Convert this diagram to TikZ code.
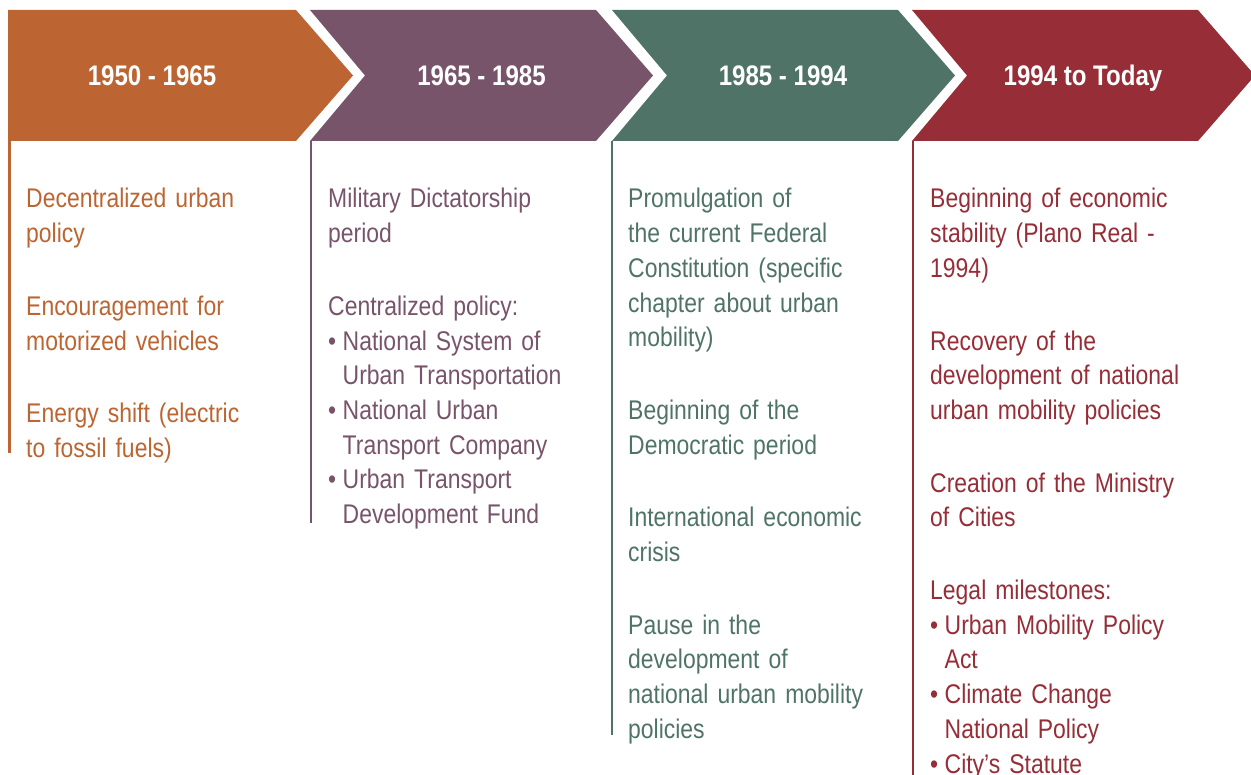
\documentclass[tikz,border=0pt]{standalone}
\usepackage{fontspec}
\setmainfont{Liberation Sans}[FakeStretch=0.85]
\usepackage{tikz}

\definecolor{rust}{HTML}{BC6532}
\definecolor{plum}{HTML}{78546B}
\definecolor{sage}{HTML}{4F7367}
\definecolor{wine}{HTML}{962D37}

\newcommand{\bul}{\makebox[14.5pt][l]{•}}
\newcommand{\ind}{\hspace*{14.5pt}}

\begin{document}
\begin{tikzpicture}[x=1pt,y=-1pt,
	period/.style={anchor=base,text=white,inner sep=0pt,font=\fontsize{28.3}{34.7}\selectfont\bfseries},
	items/.style={anchor=base west,inner sep=0pt,text width=300pt,align=left,font=\fontsize{27}{34.7}\selectfont},
	rule/.style={line width=2.5pt}]
	\useasboundingbox (0,0) rectangle (1251,775);
	% first arrow has a flat back, the others a notch
	\fill[rust] (8,10) -- (296,10) -- (353,75.5) -- (296,141) -- (8,141) -- cycle;
	\foreach \x/\c in {310/plum,612/sage,912/wine} {
		\fill[\c] (\x,10) -- (\x+286,10) -- (\x+343,75.5) -- (\x+286,141) -- (\x,141) -- (\x+55,75.5) -- cycle;
	}
	\node[period] (p1) at (152,86) {1950 - 1965};
	\node[period] (p2) at (481.5,86) {1965 - 1985};
	\node[period] (p3) at (783,86) {1985 - 1994};
	\node[period] (p4) at (1083,86) {1994 to Today};
	% timeline rules under each arrow
	\coordinate (e1) at (9.5,453);
	\coordinate (e2) at (311,523);
	\coordinate (e3) at (612,735);
	\coordinate (e4) at (913,775);
	\draw[rule,rust] (9.5,141) -- (e1);
	\draw[rule,plum] (311,141) -- (e2);
	\draw[rule,sage] (612,141) -- (e3);
	\draw[rule,wine] (913,141) -- (e4);
	% events
	\node[items,text=rust] (t1) at (26,208) {Decentralized urban\\policy\\[38pt]
		Encouragement for\\motorized vehicles\\[38pt]
		Energy shift (electric\\to fossil fuels)};
	\node[items,text=plum] (t2) at (328,208) {Military Dictatorship\\period\\[38pt]
		Centralized policy:\\
		\bul National System of\\\ind Urban Transportation\\
		\bul National Urban\\\ind Transport Company\\
		\bul Urban Transport\\\ind Development Fund};
	\node[items,text=sage] (t3) at (628,208) {Promulgation of\\the current Federal\\Constitution (specific\\chapter about urban\\mobility)\\[38pt]
		Beginning of the\\Democratic period\\[38pt]
		International economic\\crisis\\[38pt]
		Pause in the\\development of\\national urban mobility\\policies};
	\node[items,text=wine] (t4) at (930,208) {Beginning of economic\\stability (Plano Real -\\1994)\\[38pt]
		Recovery of the\\development of national\\urban mobility policies\\[38pt]
		Creation of the Ministry\\of Cities\\[38pt]
		Legal milestones:\\
		\bul Urban Mobility Policy\\\ind Act\\
		\bul Climate Change\\\ind National Policy\\
		\bul City’s Statute};
\end{tikzpicture}
\end{document}
